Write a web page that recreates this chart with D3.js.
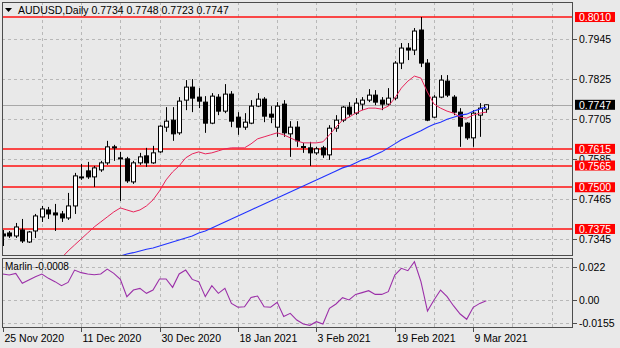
<!DOCTYPE html>
<html><head><meta charset="utf-8">
<script src="https://cdn.jsdelivr.net/npm/d3@7"></script>
<style>
html,body{margin:0;padding:0;background:#e9e9e9;}
svg{display:block;font-family:"Liberation Sans",Arial,sans-serif;}
</style></head><body>
<svg id="c" width="620" height="348"></svg>
<script>
const dates = ["2020-11-25","2020-11-26","2020-11-27","2020-11-30",
"2020-12-01","2020-12-02","2020-12-03","2020-12-04","2020-12-07","2020-12-08","2020-12-09","2020-12-10","2020-12-11",
"2020-12-14","2020-12-15","2020-12-16","2020-12-17","2020-12-18","2020-12-21","2020-12-22","2020-12-23","2020-12-24","2020-12-28","2020-12-29","2020-12-30","2020-12-31",
"2021-01-04","2021-01-05","2021-01-06","2021-01-07","2021-01-08","2021-01-11","2021-01-12","2021-01-13","2021-01-14","2021-01-15","2021-01-18",
"2021-01-19","2021-01-20","2021-01-21","2021-01-22","2021-01-25","2021-01-26","2021-01-27","2021-01-28","2021-01-29","2021-02-01","2021-02-02","2021-02-03",
"2021-02-04","2021-02-05","2021-02-08","2021-02-09","2021-02-10","2021-02-11","2021-02-12","2021-02-15","2021-02-16","2021-02-17","2021-02-18","2021-02-19",
"2021-02-22","2021-02-23","2021-02-24","2021-02-25","2021-02-26","2021-03-01","2021-03-02","2021-03-03","2021-03-04","2021-03-05","2021-03-08","2021-03-09","2021-03-10","2021-03-11"];

const open = [.7360,.7363,.7354,.7372,.7336,.7369,.7411,.7432,.7423,.7420,
.7408,.7444,.7528,.7549,.7531,.7552,.7573,.7621,.7588,.7585,
.7516,.7573,.7594,.7573,.7606,.7680,.7701,.7663,.7761,.7800,
.7770,.7755,.7692,.7770,.7728,.7779,.7710,.7680,.7692,.7743,
.7764,.7719,.7680,.7749,.7660,.7680,.7622,.7618,.7603,.7618,
.7597,.7677,.7701,.7740,.7722,.7749,.7761,.7776,.7761,.7749,
.7767,.7872,.7917,.7911,.7971,.7872,.7710,.7770,.7818,.7770,
.7725,.7692,.7648,.7716,.7734];
const high = [.7372,.7369,.7393,.7405,.7369,.7420,.7444,.7441,.7450,.7429,
.7483,.7543,.7570,.7576,.7564,.7579,.7639,.7627,.7606,.7591,
.7579,.7603,.7618,.7624,.7686,.7740,.7740,.7770,.7821,.7824,
.7797,.7773,.7782,.7779,.7809,.7788,.7725,.7722,.7761,.7782,
.7770,.7743,.7755,.7761,.7698,.7698,.7633,.7636,.7621,.7624,
.7686,.7716,.7743,.7755,.7767,.7770,.7794,.7791,.7770,.7797,
.7878,.7932,.7932,.7977,.8010,.7884,.7776,.7836,.7836,.7776,
.7737,.7695,.7731,.7752,.7748];
const low = [.7324,.7348,.7348,.7333,.7333,.7348,.7396,.7405,.7369,.7396,
.7402,.7420,.7522,.7525,.7501,.7546,.7567,.7579,.7459,.7513,
.7510,.7567,.7561,.7570,.7603,.7666,.7639,.7657,.7731,.7725,
.7737,.7663,.7689,.7716,.7722,.7680,.7657,.7672,.7689,.7740,
.7695,.7692,.7651,.7651,.7591,.7621,.7603,.7564,.7597,.7588,
.7582,.7666,.7695,.7710,.7716,.7731,.7755,.7746,.7731,.7743,
.7761,.7854,.7881,.7896,.7860,.7698,.7707,.7767,.7770,.7716,
.7621,.7642,.7621,.7651,.7723];
const close = [.7354,.7354,.7381,.7339,.7366,.7414,.7435,.7420,.7417,.7408,
.7444,.7534,.7531,.7531,.7558,.7573,.7621,.7618,.7585,.7519,
.7573,.7591,.7573,.7603,.7683,.7698,.7660,.7758,.7800,.7767,
.7758,.7692,.7773,.7728,.7779,.7698,.7680,.7695,.7743,.7764,
.7713,.7710,.7743,.7663,.7680,.7639,.7619,.7603,.7615,.7597,
.7677,.7701,.7740,.7719,.7752,.7761,.7776,.7755,.7749,.7767,
.7872,.7917,.7911,.7968,.7872,.7701,.7770,.7821,.7776,.7725,
.7683,.7648,.7722,.7737,.7747];

const maFast = [null,null,null,null,null,null,null,null,null,.7288,
.7309,.7327,.7345,.7363,.7381,.7396,.7411,.7426,.7438,.7432,
.7426,.7432,.7444,.7462,.7489,.7522,.7546,.7564,.7588,.7600,
.7606,.7600,.7603,.7609,.7615,.7618,.7618,.7618,.7630,.7645,
.7651,.7657,.7663,.7657,.7648,.7639,.7633,.7633,.7633,.7636,
.7657,.7680,.7701,.7710,.7722,.7731,.7737,.7737,.7734,.7743,
.7767,.7797,.7818,.7833,.7827,.7785,.7749,.7737,.7728,.7722,
.7710,.7707,.7716,.7722,.7725];
const maSlow = [null,null,null,null,null,null,null,null,null,null,
null,null,null,null,null,null,null,null,.7294,.7300,
.7304,.7309,.7314,.7318,.7324,.7330,.7336,.7342,.7348,.7354,
.7363,.7369,.7378,.7387,.7396,.7405,.7414,.7423,.7432,.7441,
.7450,.7459,.7468,.7477,.7486,.7495,.7504,.7513,.7522,.7531,
.7540,.7549,.7558,.7564,.7573,.7582,.7588,.7597,.7606,.7618,
.7630,.7642,.7651,.7660,.7669,.7680,.7689,.7695,.7704,.7710,
.7716,.7719,.7728,.7734,.7740];

const marlin = [.0170,.0163,.0174,.0108,.0130,.0152,.0170,.0141,.0119,.0092,
.0114,.0196,.0179,.0170,.0165,.0170,.0203,.0174,.0134,.0019,
.0063,.0074,.0041,.0063,.0137,.0137,.0081,.0170,.0196,.0134,
.0119,.0019,.0092,.0041,.0074,-.0026,-.0052,-.0048,.0014,.0023,
-.0048,-.0052,-.0019,-.0114,-.0092,-.0137,-.0163,-.0172,-.0148,-.0163,
-.0059,-.0030,.0012,-.0003,.0034,.0046,.0059,.0034,.0034,.0052,
.0163,.0208,.0192,.0252,.0119,-.0077,-.0003,.0063,.0019,-.0043,
-.0097,-.0132,-.0052,-.0026,-.0008];

const symbol = "AUDUSD,Daily";
const lastQuote = ["0.7734","0.7748","0.7723","0.7747"];
const priceTicks = [0.7945, 0.7825, 0.7705, 0.7585, 0.7465, 0.7345];
const levels = [0.8010, 0.7615, 0.7565, 0.7500, 0.7375];
const currentPrice = 0.7747;
const oscTicks = [0.022, 0.00, -0.0155];
const oscTickLabels = ["0.022", "0.00", "-0.0155"];
const oscName = "Marlin";
const labelDates = ["2020-11-25","2020-12-11","2020-12-30","2021-01-18","2021-02-03","2021-02-19","2021-03-09"];
const dateLabels = ["25 Nov 2020","11 Dec 2020","30 Dec 2020","18 Jan 2021","3 Feb 2021","19 Feb 2021","9 Mar 2021"];

// ---- layout ----
const L = 2, R = 573, T = 2, MB = 256, ST = 258, SB = 328;
const svg = d3.select("#c");
svg.append("rect").attr("width",620).attr("height",348).attr("fill","#e9e9e9");

const x = d3.scaleLinear().domain([0, 74]).range([2.7, 486.3]);
const y = d3.scaleLinear().domain([0.7294, 0.8055]).range([MB, T]);
const yo = d3.scaleLinear().domain([-0.019, 0.02767]).range([SB, ST]);

const defs = svg.append("defs");
defs.append("clipPath").attr("id","cm").append("rect").attr("x",L).attr("y",T).attr("width",R-L).attr("height",MB-T);
defs.append("clipPath").attr("id","cs").append("rect").attr("x",L).attr("y",ST).attr("width",R-L).attr("height",SB-ST);

const gridCol = "#b8b8b8";
const px = v => Math.round(v) + 0.5;

const gMain = svg.append("g").attr("clip-path","url(#cm)");
const gSub = svg.append("g").attr("clip-path","url(#cs)");
// vertical grid every 6 bars
d3.range(6, 90, 6).forEach(i => {
  [[gMain,T,MB],[gSub,ST,SB]].forEach(([g,a,b]) => {
    g.append("line").attr("x1",px(x(i))).attr("x2",px(x(i))).attr("y1",a).attr("y2",b)
      .attr("stroke",gridCol).attr("stroke-dasharray","3,3").attr("shape-rendering","crispEdges");
  });
});
priceTicks.forEach(p => {
  gMain.append("line").attr("x1",L).attr("x2",R).attr("y1",px(y(p))).attr("y2",px(y(p)))
    .attr("stroke",gridCol).attr("stroke-dasharray","3,3").attr("shape-rendering","crispEdges");
});
oscTicks.forEach(v => {
  gSub.append("line").attr("x1",L).attr("x2",R).attr("y1",px(yo(v))).attr("y2",px(yo(v)))
    .attr("stroke",gridCol).attr("stroke-dasharray","3,3").attr("shape-rendering","crispEdges");
});

// bid line
gMain.append("line").attr("x1",L).attr("x2",R).attr("y1",px(y(currentPrice))).attr("y2",px(y(currentPrice)))
  .attr("stroke","#a8a8a8").attr("shape-rendering","crispEdges");
// level lines
levels.forEach(p => {
  const yy = Math.round(y(p));
  gMain.append("line").attr("x1",L).attr("x2",R).attr("y1",yy).attr("y2",yy)
    .attr("stroke","#ff1010").attr("stroke-width",1.6);
});

// candles
const cg = gMain.append("g");
d3.range(dates.length).forEach(i => {
  const cx = px(x(i));
  cg.append("line").attr("x1",cx).attr("x2",cx).attr("y1",y(high[i])).attr("y2",y(low[i]))
    .attr("stroke","#000").attr("stroke-width",1);
  const top = y(Math.max(open[i],close[i])), bot = y(Math.min(open[i],close[i]));
  const up = close[i] >= open[i];
  cg.append("rect").attr("x",cx-2).attr("y",top).attr("width",4).attr("height",Math.max(bot-top,0.8))
    .attr("fill", up ? "#ffffff" : "#000000").attr("stroke","#000").attr("stroke-width",1);
});

// moving averages
const lineMain = arr => d3.line().defined(d => d != null).x((d,i) => x(i)).y(d => y(d))(arr);
gMain.append("path").attr("d", lineMain(maSlow)).attr("fill","none").attr("stroke","#2233ff").attr("stroke-width",1.1);
gMain.append("path").attr("d", lineMain(maFast)).attr("fill","none").attr("stroke","#e8245a").attr("stroke-width",1);

// oscillator
gSub.append("path").attr("d", d3.line().x((d,i)=>x(i)).y(d=>yo(d))(marlin))
  .attr("fill","none").attr("stroke","#9b2fa8").attr("stroke-width",1.1);

// frames
svg.append("rect").attr("x",L+0.5).attr("y",T+0.5).attr("width",R-L-1).attr("height",MB-T-1)
  .attr("fill","none").attr("stroke","#4d4d4d").attr("shape-rendering","crispEdges");
svg.append("rect").attr("x",L+0.5).attr("y",ST+0.5).attr("width",R-L-1).attr("height",SB-ST-1)
  .attr("fill","none").attr("stroke","#4d4d4d").attr("shape-rendering","crispEdges");

// title
svg.append("path").attr("d","M5,8 L12,8 L8.5,12 Z").attr("fill","#000");
svg.append("text").attr("x",18).attr("y",14).attr("font-size",10.5).attr("fill","#000")
  .text(symbol + "  " + lastQuote.join(" "));
svg.append("text").attr("x",5).attr("y",270).attr("font-size",10).attr("fill","#000")
  .text(oscName + " " + marlin[marlin.length-1].toFixed(4));

// right axis
const ax = svg.append("g").attr("font-size",10.5).attr("fill","#000");
priceTicks.forEach(p => {
  ax.append("line").attr("x1",R).attr("x2",R+4).attr("y1",px(y(p))).attr("y2",px(y(p))).attr("stroke","#4d4d4d");
  ax.append("text").attr("x",579).attr("y",y(p)+4).text(p.toFixed(4));
});
oscTicks.forEach((v,k) => {
  ax.append("line").attr("x1",R).attr("x2",R+4).attr("y1",px(yo(v))).attr("y2",px(yo(v))).attr("stroke","#4d4d4d");
  ax.append("text").attr("x",579).attr("y",yo(v)+4).text(oscTickLabels[k]);
});
levels.forEach(p => {
  ax.append("rect").attr("x",575).attr("y",y(p)-5).attr("width",40).attr("height",10).attr("fill","#ff0000");
  ax.append("text").attr("x",579).attr("y",y(p)+4).attr("fill","#fff").text(p.toFixed(4));
});
ax.append("rect").attr("x",575).attr("y",y(currentPrice)-5).attr("width",40).attr("height",10).attr("fill","#000");
ax.append("text").attr("x",579).attr("y",y(currentPrice)+4).attr("fill","#fff").text(currentPrice.toFixed(4));

// date axis
labelDates.forEach((d,k) => {
  const i = dates.indexOf(d);
  const xx = px(x(i));
  svg.append("line").attr("x1",xx).attr("x2",xx).attr("y1",SB).attr("y2",SB+4).attr("stroke","#4d4d4d");
  svg.append("text").attr("x",xx+1).attr("y",342).attr("font-size",10.5).attr("fill","#000").text(dateLabels[k]);
});
</script>
</body></html>
